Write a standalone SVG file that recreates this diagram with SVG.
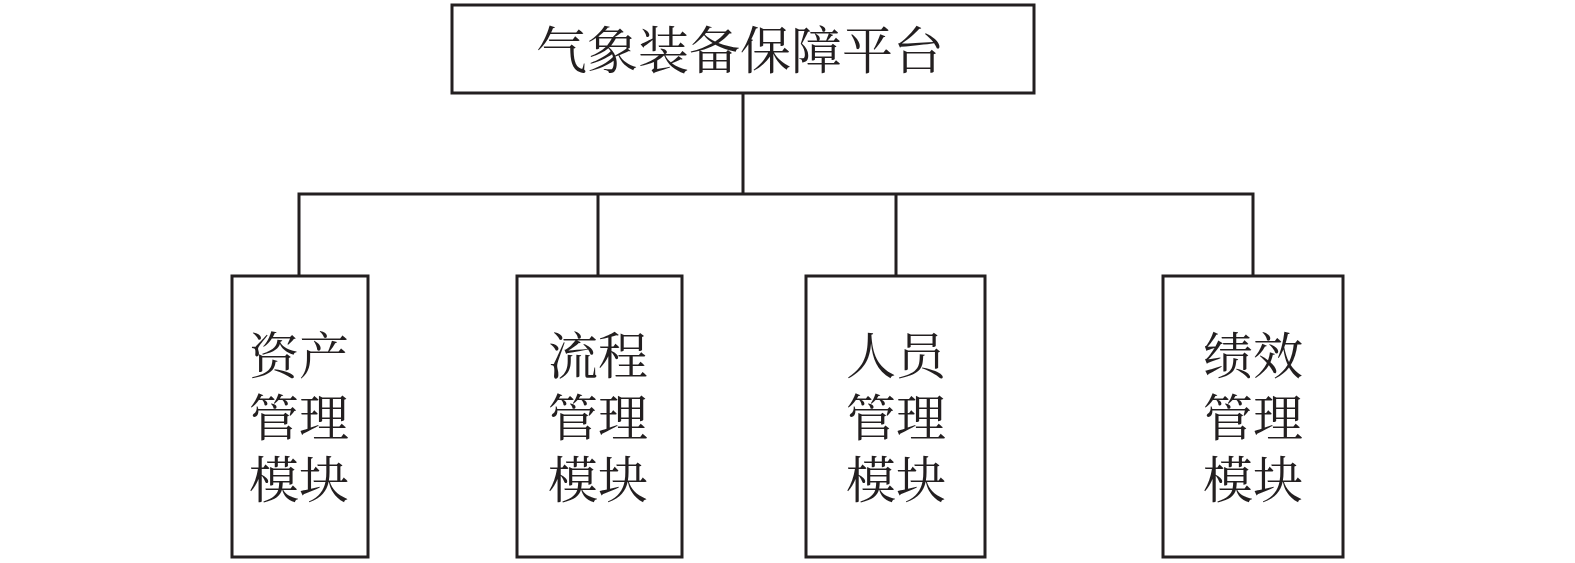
<svg xmlns="http://www.w3.org/2000/svg" width="1575" height="563" viewBox="0 0 1575 563">
<style>
.box{fill:#fff;stroke:#231f20;stroke-width:3}
.ln{fill:none;stroke:#231f20;stroke-width:3}
.t{font-family:"Noto Serif CJK SC","Noto Sans CJK SC",serif;font-size:50px;fill:#231f20;text-anchor:middle}
.tt{font-family:"Noto Serif CJK SC","Noto Sans CJK SC",serif;font-size:51px;fill:#231f20;text-anchor:middle}
</style>
<rect width="1575" height="563" fill="#fff"/>
<g id="connectors">
<path class="ln" d="M743 93V194M299 276V194H1253V276M598 194V276M896 194V276"/>
</g>
<g id="root">
<rect class="box" x="452" y="5" width="582" height="88"/>
<text class="tt" x="740" y="69">气象装备保障平台</text>
</g>
<g id="asset">
<rect class="box" x="232" y="276" width="136" height="281"/>
<text class="t" y="374"><tspan x="299">资产</tspan><tspan x="299" dy="62">管理</tspan><tspan x="299" dy="62">模块</tspan></text>
</g>
<g id="process">
<rect class="box" x="517" y="276" width="165" height="281"/>
<text class="t" y="374"><tspan x="598">流程</tspan><tspan x="598" dy="62">管理</tspan><tspan x="598" dy="62">模块</tspan></text>
</g>
<g id="staff">
<rect class="box" x="806" y="276" width="179" height="281"/>
<text class="t" y="374"><tspan x="896">人员</tspan><tspan x="896" dy="62">管理</tspan><tspan x="896" dy="62">模块</tspan></text>
</g>
<g id="performance">
<rect class="box" x="1163" y="276" width="180" height="281"/>
<text class="t" y="374"><tspan x="1253">绩效</tspan><tspan x="1253" dy="62">管理</tspan><tspan x="1253" dy="62">模块</tspan></text>
</g>
</svg>
